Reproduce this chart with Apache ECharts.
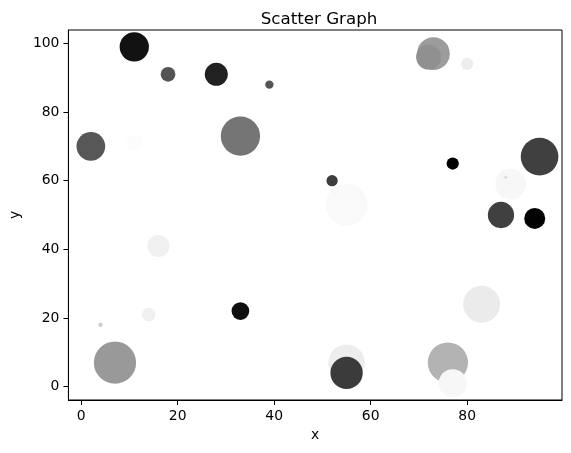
<!DOCTYPE html>
<html>
<head>
<meta charset="utf-8">
<script src="https://cdn.jsdelivr.net/npm/echarts@6/dist/echarts.min.js"></script>
<style>html,body{margin:0;padding:0;background:#fff}#c{width:571px;height:453px}</style>
</head>
<body>
<div id="c"></div>
<script>
// Data (drawing order matters for overlaps)
const xValues = [11, 18, 28, 39, 2, 11, 33, 73, 72, 80, 77, 95, 89, 88, 52, 55, 87, 94, 16, 14, 33, 4, 7, 83, 55, 55, 76, 77];
const yValues = [99, 91, 91, 88, 70, 71, 73, 97, 96, 94, 65, 67, 59, 61, 60, 53, 50, 49, 41, 21, 22, 18, 7, 24, 7, 4, 7, 1];
// marker areas (points^2, matplotlib "s")
const sizes = [445, 112, 274, 36, 427, 133, 801, 554, 324, 78, 78, 736, 488, 5, 66, 901, 358, 229, 251, 97, 162, 10, 927, 709, 683, 541, 842, 406];
// gray colormap values (0 = black, 1 = white)
const grayLevels = [0.07, 0.33, 0.13, 0.33, 0.34, 0.99, 0.46, 0.61, 0.565, 0.93, 0.0, 0.25, 0.97, 0.88, 0.24, 0.975, 0.25, 0.01, 0.94, 0.94, 0.06, 0.8, 0.6, 0.92, 0.93, 0.23, 0.70, 0.97];
const xTicks = [0, 20, 40, 60, 80];
const yTicks = [0, 20, 40, 60, 80, 100];

function gray(v) {
  const g = Math.round(v * 255);
  return 'rgb(' + g + ',' + g + ',' + g + ')';
}
const points = xValues.map((x, i) => ({
  value: [x, yValues[i], sizes[i]],
  itemStyle: { color: gray(grayLevels[i]) }
}));

const FONT = 'DejaVu Sans';
const chart = echarts.init(document.getElementById('c'), null, { renderer: 'canvas' });
chart.setOption({
  animation: false,
  backgroundColor: '#fff',
  title: {
    text: 'Scatter Graph',
    left: 314, top: 6, textAlign: 'center',
    textStyle: { fontFamily: FONT, fontSize: 16.7, fontWeight: 'normal', color: '#000' }
  },
  grid: { left: 66, right: 9, top: 30, bottom: 53, show: true, borderColor: '#000', borderWidth: 1, backgroundColor: 'transparent' },
  xAxis: {
    type: 'value', min: -2.65, max: 99.65,
    name: 'x', nameLocation: 'middle', nameGap: 28,
    nameTextStyle: { fontFamily: FONT, fontSize: 13.9, color: '#000' },
    splitLine: { show: false },
    axisLine: { show: true, onZero: false, lineStyle: { color: '#000', width: 1 } },
    axisTick: { show: true, inside: false, length: 5, lineStyle: { color: '#000' }, customValues: xTicks },
    axisLabel: { fontFamily: FONT, fontSize: 13.9, color: '#000', margin: 9, customValues: xTicks }
  },
  yAxis: {
    type: 'value', min: -3.9, max: 103.9,
    name: 'y', nameLocation: 'middle', nameGap: 40,
    nameTextStyle: { fontFamily: FONT, fontSize: 13.9, color: '#000' },
    splitLine: { show: false },
    axisLine: { show: true, onZero: false, lineStyle: { color: '#000', width: 1 } },
    axisTick: { show: true, inside: false, length: 5, lineStyle: { color: '#000' }, customValues: yTicks },
    axisLabel: { fontFamily: FONT, fontSize: 13.9, color: '#000', margin: 9, customValues: yTicks }
  },
  series: [{
    type: 'scatter',
    data: points,
    symbol: 'circle',
    symbolSize: v => Math.sqrt(v[2]) * 100 / 72,
    itemStyle: { opacity: 1 },
    emphasis: { disabled: true }
  }]
});
</script>
</body>
</html>
